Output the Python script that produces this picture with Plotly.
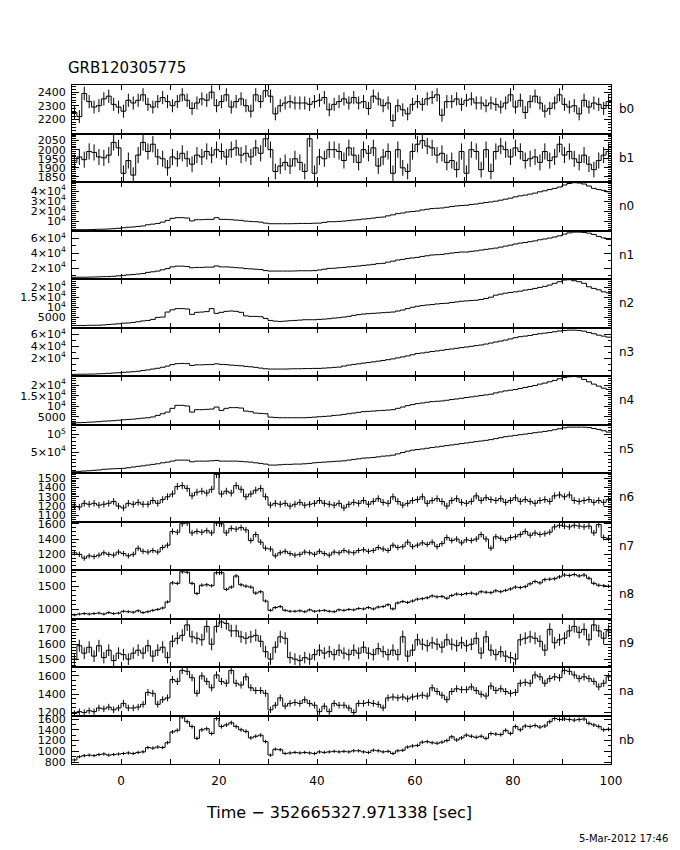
import numpy as np
import plotly.graph_objects as go
from plotly.subplots import make_subplots

# ---------------- text ----------------
title_text = "GRB120305775"
x_title = "Time − 352665327.971338 [sec]"
date_text = "5-Mar-2012 17:46"

# ---------------- time binning ----------------
t_start, t_stop, bin_width = -10, 100, 1
x_tick_values = list(range(-10, 101, 10))
x_tick_labels = ["", "0", "", "20", "", "40", "", "60", "", "80", "", "100"]

detectors = ["b0", "b1", "n0", "n1", "n2", "n3", "n4", "n5",
             "n6", "n7", "n8", "n9", "na", "nb"]

# ---------------- counts per 1 s bin (t = -10 ... 99) ----------------
b0 = [2250, 2220, 2390, 2330, 2290, 2300, 2350, 2370, 2310, 2290,
      2260, 2340, 2320, 2340, 2380, 2310, 2290, 2330, 2360, 2330,
      2300, 2330, 2380, 2340, 2280, 2320, 2350, 2340, 2400, 2300,
      2330, 2380, 2290, 2330, 2350, 2300, 2260, 2380, 2330, 2410,
      2370, 2240, 2300, 2320, 2330, 2320, 2320, 2320, 2310, 2330,
      2340, 2360, 2270, 2310, 2330, 2350, 2320, 2360, 2320, 2330,
      2280, 2370, 2350, 2300, 2320, 2190, 2300, 2270, 2240, 2310,
      2330, 2310, 2350, 2360, 2380, 2230, 2330, 2330, 2350, 2310,
      2340, 2350, 2320, 2320, 2300, 2320, 2310, 2290, 2320, 2380,
      2290, 2340, 2250, 2330, 2370, 2320, 2260, 2280, 2320, 2380,
      2310, 2290, 2300, 2240, 2340, 2290, 2320, 2310, 2280, 2330]

b1 = [1930, 1960, 1945, 1990, 1985, 1960, 1955, 1970, 2040, 2010,
      1870, 1940, 1860, 1970, 2040, 1990, 2030, 1960, 1950, 1900,
      1960, 1950, 1980, 1950, 1920, 1970, 1960, 1990, 1970, 2000,
      1990, 1960, 2000, 2010, 1970, 1980, 1960, 2010, 1980, 2060,
      2000, 1880, 1910, 1930, 1910, 1950, 1930, 1880, 2060, 1870,
      1960, 1950, 2000, 2000, 1990, 1940, 2010, 1970, 1930, 2000,
      1980, 2010, 1910, 1960, 1990, 1870, 2000, 1900, 1880, 1990,
      2030, 2050, 2020, 2010, 1970, 1980, 1930, 1940, 1890, 1990,
      1870, 2000, 1990, 1890, 2000, 1880, 1990, 2020, 2000, 1960,
      2010, 1990, 1940, 1950, 1960, 1930, 1990, 1940, 1960, 2030,
      1970, 1990, 1950, 1930, 1970, 1920, 1890, 1940, 1970, 1990]

n0 = [1700, 1800, 1800, 1900, 2000, 2200, 2300, 2500, 2800, 3200,
      3700, 4200, 4500, 5000, 5500, 6700, 7300, 8000, 9300, 11000,
      13000, 13700, 13700, 13300, 10500, 11700, 11700, 12000, 12000, 13700,
      12000, 12000, 11700, 11300, 11000, 10300, 10000, 9700, 9300, 8300,
      7700, 7700, 7700, 7700, 7700, 7800, 8000, 8000, 8000, 8200,
      8300, 9000, 9700, 9700, 10000, 10300, 10800, 11300, 11700, 12300,
      12700, 13300, 14000, 14300, 15500, 16500, 17700, 18300, 19300, 19800,
      20300, 21300, 22000, 22700, 23000, 23300, 24000, 24700, 25300, 25700,
      26000, 26700, 27200, 28000, 28700, 29300, 30000, 31000, 32000, 33000,
      34300, 35300, 36000, 37000, 38000, 39300, 40300, 41500, 42700, 44000,
      46000, 47500, 48300, 48000, 47000, 45000, 42700, 41500, 40700, 39300]

n1 = [7600, 7700, 7700, 7800, 8000, 8200, 8400, 8600, 9000, 9600,
      10200, 10900, 11300, 12000, 12600, 14200, 15000, 16000, 17700, 19300,
      21700, 22600, 22600, 22100, 20400, 20900, 20900, 21300, 21300, 22900,
      21600, 21600, 21200, 20600, 20200, 19300, 18900, 18500, 18000, 16600,
      16000, 16000, 16000, 16000, 16000, 16100, 16400, 16400, 16400, 16600,
      17400, 18500, 19600, 19800, 20400, 20900, 21600, 22200, 22800, 23600,
      24200, 25000, 26000, 26400, 28000, 29300, 30900, 31700, 33000, 33700,
      34400, 35700, 36600, 37600, 38000, 38400, 39300, 40200, 41000, 41600,
      41600, 42500, 43200, 44200, 45200, 46000, 46900, 48200, 49600, 50900,
      52400, 53600, 54400, 55600, 56600, 58100, 59200, 60400, 61800, 63400,
      65700, 67400, 68400, 68400, 68000, 67000, 65300, 62600, 60600, 58600]

n2 = [1000, 1000, 1000, 1100, 1100, 1150, 1250, 1500, 1650, 1850,
      2150, 2250, 2500, 2850, 3250, 3500, 4000, 5000, 5150, 7650,
      8750, 9350, 9350, 9150, 6500, 7500, 7650, 7850, 9350, 7000,
      7500, 8000, 8150, 8000, 7500, 5750, 5500, 5500, 5350, 4500,
      3500, 3150, 3000, 3150, 3350, 3500, 3650, 3850, 3850, 3850,
      4000, 4150, 4350, 4650, 4850, 5150, 5500, 6000, 6350, 6650,
      6850, 7000, 7150, 7350, 7500, 7650, 8150, 8650, 9350, 10000,
      10500, 10850, 11150, 11350, 11650, 11850, 12000, 12350, 12650, 13000,
      13150, 13350, 13500, 13850, 14350, 15000, 16000, 16500, 17000, 17350,
      17650, 18000, 18500, 18850, 19350, 19850, 20350, 21000, 21850, 22650,
      23500, 23650, 23150, 22650, 21850, 20150, 19350, 18650, 17650, 17150]

n3 = [-7200, -7000, -7000, -6800, -6700, -6300, -6000, -5500, -5000, -4500,
      -3800, -3300, -2800, -2000, -800, 300, 1700, 3000, 4700, 6700,
      9200, 10800, 11200, 10800, 7800, 8800, 8800, 9200, 9200, 10500,
      9500, 9200, 8300, 7800, 7200, 6200, 5500, 4500, 3300, 2200,
      1700, 1700, 1700, 1700, 2000, 2200, 2200, 2500, 2500, 2800,
      2800, 3300, 3800, 4500, 5000, 6700, 8300, 9500, 10500, 11700,
      12800, 13800, 15000, 16200, 17500, 18800, 20500, 22200, 23800, 25800,
      27800, 28800, 30000, 31200, 32200, 33300, 34500, 35500, 36700, 37800,
      38800, 40000, 41200, 42200, 43800, 45500, 47200, 48800, 50500, 52500,
      54500, 56200, 57200, 58300, 60000, 61200, 62200, 63300, 64500, 65800,
      66700, 67200, 67200, 66700, 65500, 63300, 61200, 58800, 57200, 55500]

n4 = [2240, 2290, 2380, 2520, 2620, 2760, 3000, 3100, 3240, 3430,
      3670, 3810, 3950, 4190, 4430, 4620, 5000, 5710, 6520, 7280,
      9050, 10470, 10470, 10140, 7280, 8430, 8430, 8570, 8710, 9660,
      8090, 9050, 9380, 9380, 9190, 7760, 7480, 6810, 6670, 6520,
      4900, 4760, 4620, 4620, 4620, 4620, 4620, 4620, 4760, 4900,
      5100, 5240, 5380, 5710, 5860, 6190, 6520, 6810, 7140, 7480,
      7620, 7760, 7950, 8090, 8240, 8430, 9050, 9660, 10330, 10810,
      11280, 11570, 11900, 12240, 12380, 12520, 12850, 13190, 13470, 13810,
      14140, 14420, 14760, 15090, 15380, 15710, 16330, 16800, 17280, 17610,
      17950, 18420, 18900, 19380, 19850, 20470, 20950, 21580, 22230, 22990,
      23660, 23940, 24140, 23800, 22710, 21580, 20470, 19520, 18570, 17950]

n5 = [-4690, -3580, -2740, -1910, -800, 30, 1980, 2810, 3650, 4200,
      4760, 6420, 8370, 10310, 11980, 13920, 15870, 17540, 20310, 22260,
      25040, 27810, 27810, 27810, 23090, 25040, 25040, 25040, 25870, 26980,
      25040, 25040, 25040, 25040, 24200, 23090, 22260, 20310, 18650, 16700,
      13920, 13920, 14760, 15870, 15870, 16700, 16700, 17540, 18650, 20310,
      21420, 22260, 23090, 24200, 25040, 25870, 27810, 29760, 31430, 33370,
      34200, 35310, 36980, 38930, 39760, 41700, 45320, 49200, 52820, 55590,
      57540, 59210, 61150, 63090, 64760, 66710, 68650, 70320, 72260, 74210,
      75870, 77820, 79760, 81430, 83370, 85320, 88100, 90870, 93650, 95320,
      97260, 99210, 100870, 102820, 104760, 106430, 108380, 110320, 113100, 115880,
      118650, 120320, 120320, 120320, 120320, 119490, 116710, 113930, 110320, 106430]

n6 = [1200, 1190, 1230, 1220, 1230, 1210, 1220, 1230, 1250, 1200,
      1180, 1230, 1220, 1240, 1220, 1220, 1260, 1230, 1270, 1300,
      1330, 1410, 1420, 1390, 1310, 1350, 1360, 1340, 1380, 1540,
      1330, 1360, 1340, 1420, 1380, 1300, 1330, 1370, 1390, 1300,
      1210, 1230, 1220, 1230, 1200, 1220, 1240, 1210, 1220, 1230,
      1260, 1230, 1220, 1210, 1230, 1180, 1220, 1240, 1230, 1260,
      1220, 1250, 1280, 1240, 1230, 1300, 1250, 1210, 1230, 1260,
      1270, 1300, 1230, 1260, 1280, 1250, 1200, 1260, 1280, 1240,
      1230, 1250, 1310, 1260, 1290, 1270, 1260, 1280, 1240, 1260,
      1290, 1250, 1270, 1250, 1230, 1260, 1270, 1250, 1310, 1320,
      1300, 1320, 1260, 1250, 1260, 1270, 1240, 1260, 1240, 1270]

n7 = [1220, 1200, 1150, 1180, 1170, 1190, 1220, 1200, 1190, 1230,
      1210, 1180, 1200, 1280, 1240, 1230, 1250, 1230, 1290, 1320,
      1500, 1490, 1600, 1610, 1480, 1500, 1490, 1510, 1480, 1610,
      1600, 1480, 1540, 1530, 1550, 1520, 1380, 1460, 1360, 1280,
      1270, 1180, 1220, 1240, 1210, 1190, 1200, 1230, 1220, 1200,
      1240, 1210, 1190, 1230, 1220, 1250, 1230, 1220, 1250, 1260,
      1240, 1250, 1290, 1270, 1250, 1320, 1290, 1300, 1360, 1300,
      1320, 1350, 1330, 1360, 1300, 1340, 1420, 1380, 1400, 1350,
      1390, 1380, 1400, 1460, 1400, 1280, 1430, 1410, 1380, 1420,
      1430, 1460, 1500, 1450, 1480, 1460, 1470, 1490, 1560, 1580,
      1570, 1560, 1580, 1570, 1560, 1570, 1480, 1590, 1420, 1410]

n8 = [880, 900, 910, 900, 910, 920, 900, 930, 910, 920,
      960, 950, 940, 970, 930, 950, 980, 1000, 1030, 1160,
      1570, 1560, 1810, 1800, 1560, 1340, 1520, 1530, 1510, 1790,
      1790, 1430, 1480, 1720, 1530, 1500, 1480, 1350, 1380, 1180,
      980, 1040, 1060, 980, 960, 960, 970, 950, 990, 960,
      970, 980, 960, 950, 990, 980, 1000, 990, 1020, 1010,
      1040, 1010, 1050, 1060, 1100, 1010, 1140, 1170, 1150, 1180,
      1220, 1230, 1250, 1290, 1270, 1280, 1240, 1300, 1330, 1320,
      1340, 1350, 1330, 1380, 1370, 1360, 1400, 1380, 1410, 1440,
      1480, 1470, 1490, 1550, 1600, 1570, 1640, 1650, 1660, 1700,
      1740, 1730, 1750, 1720, 1740, 1670, 1560, 1520, 1510, 1500]

n9 = [1500, 1590, 1540, 1580, 1520, 1590, 1510, 1560, 1490, 1540,
      1530, 1500, 1540, 1560, 1540, 1590, 1520, 1560, 1580, 1510,
      1620, 1640, 1660, 1730, 1650, 1640, 1630, 1720, 1600, 1720,
      1750, 1740, 1690, 1690, 1650, 1640, 1650, 1660, 1620, 1550,
      1500, 1580, 1650, 1640, 1510, 1500, 1490, 1510, 1500, 1530,
      1560, 1540, 1550, 1530, 1560, 1540, 1530, 1560, 1540, 1580,
      1540, 1530, 1570, 1550, 1530, 1560, 1530, 1650, 1520, 1560,
      1630, 1600, 1590, 1610, 1600, 1580, 1630, 1600, 1590, 1610,
      1590, 1600, 1640, 1540, 1650, 1560, 1530, 1550, 1520, 1510,
      1500, 1630, 1640, 1650, 1640, 1620, 1560, 1700, 1610, 1630,
      1640, 1690, 1720, 1680, 1700, 1630, 1730, 1690, 1640, 1690]

na = [1190, 1210, 1200, 1220, 1210, 1250, 1240, 1260, 1230, 1250,
      1300, 1250, 1250, 1260, 1290, 1420, 1410, 1290, 1340, 1360,
      1560, 1540, 1660, 1650, 1580, 1410, 1600, 1540, 1470, 1610,
      1540, 1520, 1660, 1520, 1500, 1590, 1470, 1440, 1440, 1410,
      1230, 1280, 1360, 1270, 1300, 1310, 1300, 1340, 1300, 1280,
      1210, 1270, 1210, 1300, 1280, 1280, 1250, 1200, 1300, 1300,
      1310, 1300, 1290, 1250, 1360, 1370, 1360, 1370, 1350, 1370,
      1380, 1390, 1380, 1470, 1430, 1390, 1340, 1430, 1460, 1450,
      1450, 1480, 1440, 1400, 1380, 1490, 1440, 1460, 1430, 1410,
      1420, 1520, 1530, 1520, 1610, 1590, 1520, 1570, 1590, 1580,
      1660, 1650, 1610, 1570, 1590, 1570, 1540, 1480, 1520, 1590]

nb = [840, 900, 920, 930, 920, 940, 950, 930, 940, 950,
      960, 970, 960, 980, 990, 1070, 1060, 1080, 1070, 1160,
      1360, 1390, 1640, 1550, 1460, 1240, 1400, 1420, 1330, 1610,
      1460, 1490, 1530, 1460, 1400, 1370, 1250, 1280, 1300, 1180,
      930, 1040, 1030, 960, 970, 980, 970, 980, 970, 960,
      990, 980, 990, 1000, 990, 1000, 990, 1010, 1010, 990,
      980, 1020, 1010, 990, 1000, 960, 1010, 1020, 1080, 1100,
      1110, 1170, 1180, 1160, 1150, 1170, 1200, 1270, 1210, 1250,
      1300, 1280, 1260, 1280, 1240, 1330, 1320, 1310, 1390, 1330,
      1460, 1400, 1470, 1460, 1480, 1450, 1470, 1550, 1610, 1590,
      1600, 1590, 1580, 1590, 1600, 1520, 1490, 1460, 1400, 1410]

series = {"b0": b0, "b1": b1, "n0": n0, "n1": n1, "n2": n2, "n3": n3,
          "n4": n4, "n5": n5, "n6": n6, "n7": n7, "n8": n8, "n9": n9,
          "na": na, "nb": nb}
with_errors = {"b0", "b1", "n6", "n7", "n8", "n9", "na", "nb"}

# ---------------- y axes ----------------
E4 = "×10<sup>4</sup>"
y_ranges = {"b0": [2096, 2452], "b1": [1822, 2089], "n0": [1000, 49000],
            "n1": [5300, 70600], "n2": [0, 24000], "n3": [-10000, 71700],
            "n4": [1430, 24300], "n5": [-8300, 127800], "n6": [1035, 1555],
            "n7": [995, 1630], "n8": [804, 1848], "n9": [1447, 1773],
            "na": [1168, 1697], "nb": [765, 1665]}
y_tickvals = {"b0": [2200, 2300, 2400], "b1": [1850, 1900, 1950, 2000, 2050],
              "n0": [10000, 20000, 30000, 40000], "n1": [20000, 40000, 60000],
              "n2": [5000, 10000, 15000, 20000], "n3": [20000, 40000, 60000],
              "n4": [5000, 10000, 15000, 20000], "n5": [50000, 100000],
              "n6": [1100, 1200, 1300, 1400, 1500], "n7": [1000, 1200, 1400, 1600],
              "n8": [1000, 1500], "n9": [1500, 1600, 1700],
              "na": [1200, 1400, 1600], "nb": [800, 1000, 1200, 1400, 1600]}
y_ticktext = {"n0": ["10<sup>4</sup>", "2" + E4, "3" + E4, "4" + E4],
              "n1": ["2" + E4, "4" + E4, "6" + E4],
              "n2": ["5000", "10<sup>4</sup>", "1.5" + E4, "2" + E4],
              "n3": ["2" + E4, "4" + E4, "6" + E4],
              "n4": ["5000", "10<sup>4</sup>", "1.5" + E4, "2" + E4],
              "n5": ["5" + E4, "10<sup>5</sup>"]}
y_minor_step = {"b0": 20, "b1": 10, "n0": 2000, "n1": 10000, "n2": 1000,
                "n3": 10000, "n4": 1000, "n5": 10000, "n6": 20, "n7": 50,
                "n8": 100, "n9": 20, "na": 50, "nb": 100}

FONT = "DejaVu Sans"
n_rows = len(detectors)
fig = make_subplots(rows=n_rows, cols=1, vertical_spacing=0)

edges = np.arange(t_start, t_stop + bin_width, bin_width)
centers = edges[:-1] + bin_width / 2

for i, det in enumerate(detectors, start=1):
    vals = np.array(series[det], dtype=float)
    assert len(vals) == len(centers), (det, len(vals))
    fig.add_trace(go.Scatter(x=edges, y=np.append(vals, vals[-1]), mode="lines",
                             line=dict(color="black", width=1, shape="hv"),
                             hoverinfo="skip", showlegend=False), row=i, col=1)
    if det in with_errors:
        fig.add_trace(go.Scatter(x=centers, y=vals, mode="markers",
                                 marker=dict(size=1, color="rgba(0,0,0,0)"),
                                 error_y=dict(type="data", array=np.sqrt(vals),
                                              width=0, thickness=1, color="black"),
                                 hoverinfo="skip", showlegend=False), row=i, col=1)
    lo, hi = y_ranges[det]
    step = y_minor_step[det]
    minor_vals = np.arange(np.ceil(lo / step) * step, hi, step)
    fig.update_yaxes(row=i, col=1, range=[lo, hi], tickmode="array",
                     tickvals=y_tickvals[det],
                     ticktext=y_ticktext.get(det, [str(v) for v in y_tickvals[det]]),
                     ticks="inside", ticklen=7, tickwidth=1, tickcolor="black",
                     showline=True, linecolor="black", linewidth=1, mirror="ticks",
                     showgrid=False, zeroline=False, ticklabelstandoff=3,
                     tickfont=dict(family=FONT, size=11, color="black"),
                     minor=dict(tickmode="array", tickvals=minor_vals, ticks="inside",
                                ticklen=3.5, tickcolor="black", showgrid=False))
    fig.update_xaxes(row=i, col=1, range=[t_start, t_stop], tickmode="array",
                     tickvals=x_tick_values, ticktext=x_tick_labels,
                     ticks="inside", ticklen=5, tickwidth=1, tickcolor="black",
                     showline=True, linecolor="black", linewidth=1, mirror="ticks",
                     showgrid=False, zeroline=False, showticklabels=(i == n_rows),
                     ticklabelstandoff=6,
                     tickfont=dict(family=FONT, size=12, color="black"))
    yref = "y domain" if i == 1 else f"y{i} domain"
    fig.add_annotation(text=det, xref="paper", yref=yref, x=1.011, y=0.5,
                       xanchor="left", yanchor="middle", showarrow=False,
                       font=dict(family=FONT, size=12, color="black"))

fig.add_annotation(text=title_text, xref="paper", yref="paper", x=0, y=1.025,
                   xanchor="left", yanchor="middle", showarrow=False, xshift=-6,
                   font=dict(family=FONT, size=15, color="black"))
fig.add_annotation(text=x_title, xref="paper", yref="paper", x=0.495, y=-0.0707,
                   xanchor="center", yanchor="middle", showarrow=False,
                   font=dict(family=FONT, size=16, color="black"))
fig.add_annotation(text=date_text, xref="paper", yref="paper", x=1.1234, y=-0.109,
                   xanchor="right", yanchor="middle", showarrow=False, xshift=-8,
                   font=dict(family=FONT, size=10, color="black"))

# the page adds an 8 px body margin, so the margins are offset to compensate
fig.update_layout(width=680, height=850, autosize=False,
                  margin=dict(l=60, r=77, t=77, b=94),
                  paper_bgcolor="white", plot_bgcolor="white",
                  showlegend=False)

fig.write_html("out.html", config={"displayModeBar": False})
